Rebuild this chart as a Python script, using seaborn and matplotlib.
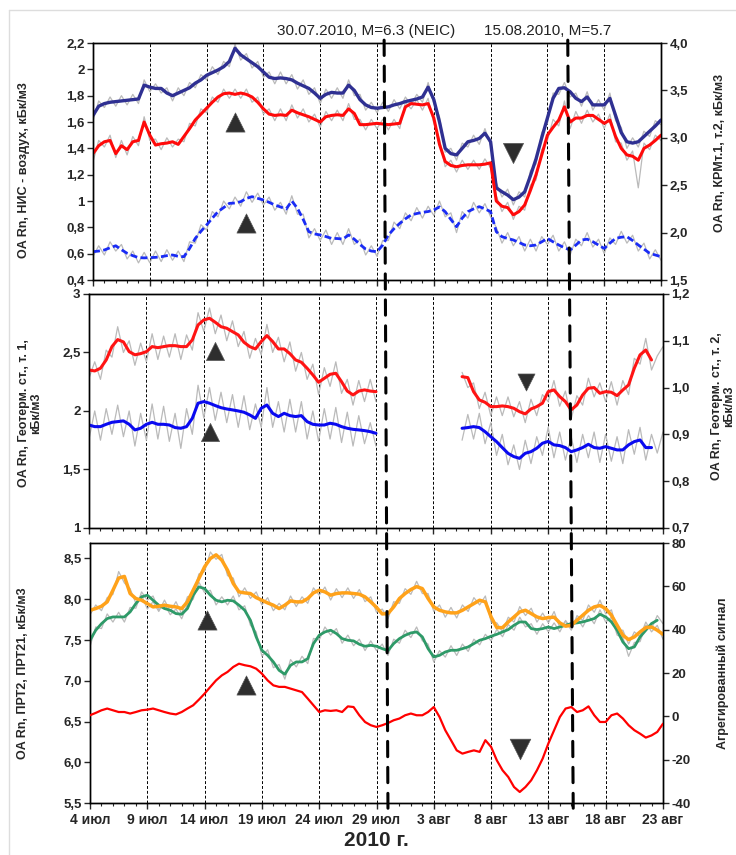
import numpy as np
import pandas as pd
import matplotlib.pyplot as plt
import matplotlib.dates as mdates
from matplotlib.patches import ConnectionPatch
from matplotlib.lines import Line2D
import seaborn as sns

nan = np.nan

# half-day time grid, 4 Jul 2010 .. 23 Aug 2010
times = pd.date_range("2010-07-04", periods=101, freq="12h")

# ---- panel 1: НИС воздух / КРМ
krm1 = [1.65, 1.72, 1.74, 1.75, 1.755, 1.76, 1.765, 1.77, 1.775, 1.88,
        1.865, 1.855, 1.855, 1.82, 1.80, 1.82, 1.84, 1.86, 1.895, 1.92,
        1.955, 1.975, 1.995, 2.02, 2.06, 2.16, 2.11, 2.08, 2.05, 2.02,
        1.98, 1.94, 1.93, 1.935, 1.93, 1.92, 1.895, 1.875, 1.855, 1.82,
        1.78, 1.81, 1.825, 1.82, 1.82, 1.88, 1.84, 1.77, 1.73, 1.71,
        1.705, 1.71, 1.715, 1.73, 1.74, 1.755, 1.765, 1.775, 1.79, 1.865,
        1.77, 1.60, 1.40, 1.36, 1.35, 1.40, 1.45, 1.46, 1.475, 1.515,
        1.45, 1.10, 1.07, 1.045, 1.01, 1.03, 1.07, 1.19, 1.32, 1.48,
        1.63, 1.78, 1.855, 1.86, 1.83, 1.78, 1.755, 1.79, 1.73, 1.73,
        1.73, 1.78, 1.65, 1.52, 1.45, 1.44, 1.45, 1.49, 1.53, 1.57,
        1.615]
krm1_raw = [1.61, 1.76, 1.71, 1.79, 1.72, 1.80, 1.73, 1.81, 1.74, 1.92,
            1.83, 1.89, 1.82, 1.86, 1.76, 1.86, 1.80, 1.90, 1.86, 1.96,
            1.92, 2.02, 1.96, 2.06, 2.02, 2.19, 2.07, 2.12, 2.01, 2.06,
            1.94, 1.98, 1.89, 1.98, 1.89, 1.96, 1.85, 1.92, 1.81, 1.86,
            1.74, 1.85, 1.78, 1.86, 1.78, 1.92, 1.80, 1.81, 1.69, 1.75,
            1.67, 1.75, 1.68, 1.77, 1.70, 1.79, 1.73, 1.81, 1.75, 1.90,
            1.74, 1.64, 1.37, 1.40, 1.31, 1.44, 1.41, 1.50, 1.43, 1.55,
            1.42, 1.14, 1.03, 1.09, 0.97, 1.07, 1.03, 1.23, 1.28, 1.52,
            1.59, 1.82, 1.81, 1.90, 1.79, 1.82, 1.72, 1.83, 1.69, 1.77,
            1.69, 1.82, 1.61, 1.56, 1.40, 1.48, 1.41, 1.53, 1.49, 1.61,
            1.58]
krm2 = [1.36, 1.42, 1.45, 1.46, 1.36, 1.42, 1.39, 1.45, 1.46, 1.60,
        1.50, 1.425, 1.435, 1.44, 1.45, 1.43, 1.49, 1.55, 1.615, 1.66,
        1.705, 1.75, 1.79, 1.815, 1.82, 1.81, 1.82, 1.81, 1.79, 1.75,
        1.70, 1.66, 1.65, 1.655, 1.65, 1.69, 1.67, 1.655, 1.64, 1.62,
        1.60, 1.64, 1.65, 1.655, 1.65, 1.70, 1.665, 1.58, 1.58, 1.585,
        1.59, 1.585, 1.58, 1.585, 1.59, 1.715, 1.74, 1.735, 1.73, 1.74,
        1.63, 1.43, 1.30, 1.27, 1.26, 1.27, 1.275, 1.275, 1.275, 1.28,
        1.29, 1.00, 0.96, 0.95, 0.895, 0.92, 0.97, 1.08, 1.20, 1.35,
        1.50, 1.56, 1.615, 1.715, 1.60, 1.63, 1.63, 1.65, 1.65, 1.62,
        1.59, 1.615, 1.49, 1.40, 1.35, 1.34, 1.31, 1.40, 1.425, 1.46,
        1.50]
krm2_raw = [1.30, 1.46, 1.41, 1.50, 1.33, 1.46, 1.35, 1.49, 1.42, 1.64,
            1.46, 1.47, 1.39, 1.48, 1.41, 1.47, 1.45, 1.59, 1.57, 1.70,
            1.67, 1.79, 1.75, 1.85, 1.78, 1.85, 1.78, 1.85, 1.75, 1.79,
            1.66, 1.70, 1.61, 1.70, 1.61, 1.73, 1.63, 1.70, 1.60, 1.66,
            1.56, 1.68, 1.61, 1.69, 1.61, 1.74, 1.62, 1.62, 1.54, 1.62,
            1.55, 1.62, 1.54, 1.62, 1.55, 1.75, 1.70, 1.77, 1.69, 1.78,
            1.59, 1.47, 1.26, 1.31, 1.22, 1.31, 1.24, 1.31, 1.24, 1.32,
            1.25, 1.04, 0.92, 0.99, 0.86, 0.96, 0.93, 1.12, 1.16, 1.39,
            1.46, 1.62, 1.57, 1.76, 1.55, 1.68, 1.59, 1.69, 1.60, 1.66,
            1.55, 1.66, 1.45, 1.44, 1.31, 1.38, 1.10, 1.44, 1.39, 1.50,
            1.46]
nis = [0.615, 0.62, 0.628, 0.645, 0.66, 0.63, 0.603, 0.585, 0.57, 0.568,
       0.57, 0.572, 0.577, 0.585, 0.59, 0.58, 0.577, 0.64, 0.716, 0.77,
       0.818, 0.87, 0.919, 0.95, 0.982, 0.985, 0.995, 1.02, 1.033, 1.02,
       1.008, 0.99, 0.97, 0.955, 0.939, 1.0, 0.944, 0.86, 0.767, 0.75,
       0.742, 0.73, 0.716, 0.715, 0.711, 0.742, 0.71, 0.67, 0.635, 0.62,
       0.615, 0.665, 0.742, 0.79, 0.83, 0.865, 0.894, 0.905, 0.914, 0.92,
       0.932, 0.955, 0.919, 0.86, 0.805, 0.87, 0.919, 0.94, 0.957, 0.94,
       0.919, 0.767, 0.729, 0.715, 0.704, 0.685, 0.666, 0.66, 0.666, 0.69,
       0.716, 0.69, 0.666, 0.645, 0.628, 0.665, 0.704, 0.71, 0.691, 0.665,
       0.64, 0.68, 0.716, 0.725, 0.729, 0.70, 0.666, 0.635, 0.603, 0.59,
       0.577]
nis_raw = [0.58, 0.66, 0.59, 0.69, 0.62, 0.67, 0.56, 0.62, 0.53, 0.61,
           0.53, 0.62, 0.54, 0.63, 0.55, 0.62, 0.54, 0.69, 0.68, 0.82,
           0.78, 0.92, 0.88, 1.00, 0.94, 1.03, 0.96, 1.07, 0.99, 1.06,
           0.97, 1.03, 0.93, 0.99, 0.90, 1.04, 0.90, 0.90, 0.72, 0.79,
           0.70, 0.78, 0.67, 0.76, 0.67, 0.79, 0.67, 0.71, 0.59, 0.66,
           0.58, 0.70, 0.70, 0.84, 0.79, 0.91, 0.85, 0.95, 0.87, 0.96,
           0.89, 1.00, 0.88, 0.91, 0.76, 0.92, 0.87, 0.99, 0.91, 0.98,
           0.88, 0.80, 0.68, 0.76, 0.66, 0.73, 0.62, 0.71, 0.62, 0.73,
           0.67, 0.74, 0.62, 0.69, 0.59, 0.71, 0.66, 0.76, 0.65, 0.71,
           0.60, 0.72, 0.67, 0.77, 0.68, 0.74, 0.62, 0.68, 0.56, 0.63,
           0.55]

# ---- panel 2: Геотерм. станция
geo1 = [2.35, 2.342, 2.365, 2.436, 2.55, 2.61, 2.59, 2.507, 2.48, 2.49,
        2.507, 2.55, 2.541, 2.55, 2.558, 2.558, 2.55, 2.55, 2.607, 2.735,
        2.778, 2.792, 2.758, 2.72, 2.707, 2.678, 2.65, 2.587, 2.55, 2.53,
        2.593, 2.644, 2.593, 2.53, 2.53, 2.49, 2.436, 2.416, 2.365, 2.308,
        2.245, 2.279, 2.313, 2.322, 2.25, 2.17, 2.137, 2.17, 2.18, 2.17,
        2.165, nan, nan, nan, nan, nan, nan, nan, nan, nan,
        nan, nan, nan, nan, nan, 2.293, 2.285, 2.165, 2.094, 2.074,
        2.037, 2.037, 2.043, 2.037, 2.023, 1.994, 1.975, 2.017, 2.037, 2.066,
        2.165, 2.18, 2.123, 2.08, 2.009, 2.051, 2.137, 2.194, 2.2, 2.151,
        2.165, 2.16, 2.131, 2.179, 2.222, 2.365, 2.479, 2.521, 2.436, nan,
        nan]
geo1_raw = [2.28, 2.42, 2.27, 2.52, 2.46, 2.72, 2.50, 2.60, 2.39, 2.58,
            2.42, 2.66, 2.44, 2.64, 2.46, 2.66, 2.44, 2.65, 2.52, 2.84,
            2.68, 2.88, 2.66, 2.82, 2.60, 2.77, 2.55, 2.68, 2.45, 2.62,
            2.48, 2.74, 2.50, 2.63, 2.42, 2.59, 2.34, 2.50, 2.27, 2.40,
            2.14, 2.37, 2.21, 2.42, 2.15, 2.27, 2.05, 2.26, 2.08, 2.27,
            2.08, nan, nan, nan, nan, nan, nan, nan, nan, nan,
            nan, nan, nan, nan, nan, 2.33, 2.20, 2.24, 2.02, 2.16,
            1.96, 2.12, 1.96, 2.12, 1.95, 2.08, 1.90, 2.10, 1.96, 2.14,
            2.08, 2.26, 2.04, 2.17, 1.93, 2.13, 2.05, 2.28, 2.12, 2.24,
            2.08, 2.25, 2.05, 2.26, 2.14, 2.45, 2.40, 2.62, 2.35, 2.47,
            2.55]
geo2 = [1.88, 1.866, 1.866, 1.886, 1.903, 1.909, 1.915, 1.886, 1.838, 1.852,
        1.886, 1.903, 1.886, 1.886, 1.88, 1.858, 1.852, 1.866, 1.937, 2.066,
        2.08, 2.066, 2.046, 2.028, 2.017, 2.009, 2.0, 1.989, 1.966, 1.937,
        2.023, 2.051, 1.98, 1.952, 1.98, 1.96, 1.952, 1.96, 1.909, 1.886,
        1.88, 1.88, 1.895, 1.886, 1.866, 1.852, 1.843, 1.838, 1.832, 1.823,
        1.809, nan, nan, nan, nan, nan, nan, nan, nan, nan,
        nan, nan, nan, nan, nan, 1.852, 1.858, 1.866, 1.858, 1.823,
        1.78, 1.738, 1.687, 1.638, 1.61, 1.595, 1.638, 1.652, 1.681, 1.724,
        1.74, 1.71, 1.704, 1.687, 1.652, 1.667, 1.687, 1.715, 1.687, 1.681,
        1.695, 1.681, 1.667, 1.667, 1.71, 1.738, 1.752, 1.687, 1.687, nan,
        nan]
geo2_raw = [1.76, 2.00, 1.75, 2.02, 1.80, 2.05, 1.78, 2.00, 1.70, 1.98,
            1.75, 2.06, 1.76, 2.04, 1.74, 1.98, 1.68, 2.02, 1.80, 2.22,
            1.94, 2.20, 1.92, 2.16, 1.90, 2.14, 1.86, 2.13, 1.84, 2.06,
            1.86, 2.20, 1.86, 2.08, 1.82, 2.10, 1.82, 2.08, 1.76, 2.00,
            1.74, 2.02, 1.76, 2.03, 1.73, 1.99, 1.70, 1.96, 1.72, 1.90,
            1.70, nan, nan, nan, nan, nan, nan, nan, nan, nan,
            nan, nan, nan, nan, nan, 1.75, 1.97, 1.76, 1.98, 1.72,
            1.90, 1.62, 1.80, 1.54, 1.71, 1.50, 1.75, 1.55, 1.78, 1.62,
            1.86, 1.60, 1.82, 1.58, 1.78, 1.56, 1.80, 1.60, 1.82, 1.56,
            1.80, 1.57, 1.78, 1.55, 1.84, 1.63, 1.86, 1.58, 1.80, 1.64,
            1.82]

# ---- panel 3: ПРТ2, ПРТ21, агрегированный сигнал
prt2 = [7.865, 7.886, 7.914, 7.968, 8.111, 8.26, 8.28, 8.07, 8.009, 7.988,
        7.947, 7.906, 7.914, 7.927, 7.914, 7.906, 7.886, 7.968, 8.111, 8.254,
        8.398, 8.5, 8.545, 8.48, 8.357, 8.193, 8.09, 8.078, 8.07, 8.02,
        7.988, 7.955, 7.927, 7.886, 7.927, 7.98, 7.968, 7.968, 8.009, 8.078,
        8.111, 8.09, 8.05, 8.07, 8.078, 8.078, 8.07, 8.062, 8.029, 7.968,
        7.9, 7.82, 7.824, 7.906, 8.009, 8.07, 8.119, 8.155, 8.131, 8.009,
        7.906, 7.865, 7.845, 7.833, 7.833, 7.865, 7.906, 7.947, 7.988, 7.968,
        7.783, 7.652, 7.652, 7.722, 7.783, 7.845, 7.865, 7.824, 7.783, 7.763,
        7.775, 7.78, 7.71, 7.669, 7.681, 7.742, 7.804, 7.865, 7.906, 7.923,
        7.886, 7.804, 7.681, 7.558, 7.505, 7.538, 7.599, 7.652, 7.66, 7.62,
        7.57]
prt2_raw = [7.81, 7.93, 7.86, 8.02, 8.06, 8.34, 8.20, 8.13, 7.95, 8.05,
            7.88, 7.97, 7.85, 7.99, 7.85, 7.97, 7.82, 8.03, 8.05, 8.31,
            8.34, 8.58, 8.49, 8.55, 8.29, 8.26, 8.03, 8.14, 8.01, 8.09,
            7.93, 8.02, 7.86, 7.95, 7.87, 8.04, 7.91, 8.03, 7.95, 8.14,
            8.05, 8.15, 7.99, 8.13, 8.02, 8.14, 8.01, 8.12, 7.97, 8.03,
            7.84, 7.88, 7.76, 7.97, 7.95, 8.13, 8.06, 8.22, 8.07, 8.07,
            7.85, 7.93, 7.78, 7.90, 7.77, 7.93, 7.85, 8.02, 7.93, 8.04,
            7.72, 7.71, 7.60, 7.78, 7.72, 7.91, 7.80, 7.89, 7.72, 7.83,
            7.71, 7.85, 7.65, 7.73, 7.62, 7.80, 7.74, 7.93, 7.84, 7.99,
            7.82, 7.87, 7.62, 7.62, 7.45, 7.60, 7.54, 7.72, 7.60, 7.68,
            7.51]
prt21 = [7.497, 7.62, 7.7, 7.763, 7.783, 7.783, 7.783, 7.845, 7.947, 8.029,
         8.05, 7.988, 7.927, 7.886, 7.865, 7.824, 7.816, 7.886, 8.05, 8.152,
         8.131, 8.05, 7.988, 7.968, 7.988, 7.98, 7.927, 7.865, 7.742, 7.538,
         7.374, 7.312, 7.231, 7.128, 7.08, 7.19, 7.231, 7.231, 7.271, 7.456,
         7.558, 7.599, 7.62, 7.579, 7.517, 7.497, 7.489, 7.448, 7.423, 7.435,
         7.423, 7.394, 7.37, 7.456, 7.517, 7.558, 7.587, 7.599, 7.538, 7.394,
         7.292, 7.312, 7.353, 7.374, 7.374, 7.394, 7.415, 7.456, 7.497, 7.517,
         7.546, 7.57, 7.599, 7.628, 7.681, 7.722, 7.72, 7.64, 7.628, 7.64,
         7.66, 7.64, 7.66, 7.681, 7.702, 7.71, 7.722, 7.742, 7.763, 7.816,
         7.783, 7.722, 7.62, 7.476, 7.394, 7.415, 7.538, 7.62, 7.702, 7.742,
         nan]
prt21_raw = [7.42, 7.66, 7.64, 7.82, 7.72, 7.84, 7.72, 7.90, 7.89, 8.09,
             7.99, 8.04, 7.87, 7.94, 7.81, 7.88, 7.76, 7.94, 8.00, 8.21,
             8.08, 8.11, 7.93, 8.03, 7.93, 8.04, 7.87, 7.92, 7.68, 7.60,
             7.30, 7.38, 7.16, 7.20, 7.02, 7.26, 7.17, 7.30, 7.21, 7.52,
             7.50, 7.66, 7.56, 7.64, 7.46, 7.56, 7.43, 7.51, 7.37, 7.49,
             7.37, 7.45, 7.31, 7.51, 7.46, 7.62, 7.53, 7.66, 7.49, 7.45,
             7.23, 7.37, 7.29, 7.43, 7.31, 7.45, 7.36, 7.51, 7.44, 7.57,
             7.49, 7.63, 7.54, 7.69, 7.62, 7.78, 7.66, 7.70, 7.57, 7.70,
             7.60, 7.71, 7.60, 7.74, 7.64, 7.77, 7.66, 7.80, 7.70, 7.87,
             7.72, 7.78, 7.56, 7.53, 7.30, 7.47, 7.48, 7.68, 7.64, 7.80,
             7.70]
aggr = [0.5, 1.6, 2.8, 3.6, 2.8, 2.0, 2.0, 1.3, 2.0, 2.8,
        3.1, 3.6, 2.8, 2.0, 1.3, 0.9, 2.0, 3.6, 5.1, 7.7,
        10.5, 13.6, 16.6, 18.9, 20.5, 22.8, 24.3, 23.6, 23.1, 22.0,
        19.7, 16.6, 14.3, 13.6, 13.6, 12.8, 12.0, 11.2, 8.2, 5.1,
        2.0, 2.8, 2.5, 2.8, 2.0, 4.6, 4.3, 0.5, -2.6, -4.1,
        -4.9, -4.1, -3.1, -1.8, -1.0, 0.5, 1.3, 0.5, 0.5, 2.0,
        4.3, -0.3, -6.4, -11.0, -15.7, -17.2, -16.4, -15.7, -16.4, -11.0,
        -14.1, -20.3, -24.9, -28.0, -32.6, -34.9, -32.6, -29.5, -24.9, -19.5,
        -12.5, -6.4, -0.3, 3.6, 4.3, 2.0, 2.8, 4.6, 0.5, -2.6,
        -2.6, 0.5, 1.3, -1.0, -4.1, -6.4, -8.0, -9.8, -8.8, -7.2,
        -3.4]

# anomaly markers (date, value, direction, size)
marks1 = [("2010-07-16 12:00", 1.60, "^", 190), ("2010-07-17 12:00", 0.833, "^", 190),
          ("2010-08-09 23:00", 1.365, "v", 210)]
marks2 = [("2010-07-15 00:00", 2.513, "^", 170), ("2010-07-14 12:00", 1.823, "^", 170),
          ("2010-08-11 02:00", 2.248, "v", 150)]
marks3 = [("2010-07-14 05:00", 7.742, "^", 190), ("2010-07-17 15:00", 6.943, "^", 190),
          ("2010-08-10 12:00", 6.157, "v", 220)]

# earthquakes: (line top, line bottom, caption centre, caption)
quakes = [("2010-07-29 15:00", "2010-07-30 00:00", "2010-07-28 02:00", "30.07.2010, M=6.3 (NEIC)"),
          ("2010-08-14 19:00", "2010-08-15 04:00", "2010-08-13 00:00", "15.08.2010, M=5.7")]

tick_dates = pd.date_range("2010-07-04", "2010-08-23", freq="5D")
tick_names = ["4 июл", "9 июл", "14 июл", "19 июл", "24 июл", "29 июл",
              "3 авг", "8 авг", "13 авг", "18 авг", "23 авг"]

sns.set_style("ticks")
plt.rcParams["font.family"] = ["Liberation Sans", "DejaVu Sans"]
plt.rcParams["axes.edgecolor"] = "black"
plt.rcParams["axes.linewidth"] = 1.0
narrow = ["Liberation Sans Narrow", "Liberation Sans", "DejaVu Sans"]

fig = plt.figure(figsize=(7.36, 8.55), dpi=100)
ax1 = fig.add_axes([0.1264, 0.6725, 0.7717, 0.2772])
ax2 = fig.add_axes([0.1209, 0.3825, 0.7799, 0.2737])
ax3 = fig.add_axes([0.1223, 0.0608, 0.7785, 0.3041])


def line(ax, values, color, lw, ls="-", z=3):
    df = pd.DataFrame({"t": times, "v": values})
    df["part"] = df["v"].isna().cumsum()
    df = df.dropna()
    sns.lineplot(data=df, x="t", y="v", units="part", estimator=None,
                 color=color, lw=lw, linestyle=ls, ax=ax, zorder=z)


def markers(ax, marks):
    for d, v, m, s in marks:
        sns.scatterplot(x=[pd.Timestamp(d)], y=[v], marker=m, s=s, color="#2e2e2e",
                        edgecolor="#555555", linewidth=0.5, ax=ax, zorder=6)


grey = "#bababa"
# panel 1
line(ax1, krm1_raw, grey, 0.9, z=2)
line(ax1, krm2_raw, grey, 0.9, z=2)
line(ax1, nis_raw, grey, 0.9, z=2)
line(ax1, krm1, "#2f3092", 2.4)
line(ax1, krm2, "#ff0a0a", 2.2)
line(ax1, nis, "#1a2cf5", 2.0, ls=(0, (2.5, 1.2)))
markers(ax1, marks1)

# panel 2
line(ax2, geo1_raw, grey, 0.9, z=2)
line(ax2, geo2_raw, grey, 0.9, z=2)
line(ax2, geo1, "#ff1414", 2.2)
line(ax2, geo2, "#0a0af0", 2.2)
markers(ax2, marks2)

# panel 3
ax3r = ax3.twinx()
line(ax3, prt2_raw, grey, 0.9, z=2)
line(ax3, prt21_raw, grey, 0.9, z=2)
line(ax3, prt21, "#2e9a68", 2.0)
line(ax3, prt2, "#ffa21a", 2.5)
line(ax3r, aggr, "#ff0000", 1.6)
markers(ax3, marks3)

ax1r = ax1.twinx()
ax2r = ax2.twinx()

yset = [
    (ax1, (0.4, 2.2), [0.4, 0.6, 0.8, 1.0, 1.2, 1.4, 1.6, 1.8, 2.0, 2.2],
     ["0,4", "0,6", "0,8", "1", "1,2", "1,4", "1,6", "1,8", "2", "2,2"]),
    (ax1r, (1.5, 4.0), [1.5, 2.0, 2.5, 3.0, 3.5, 4.0],
     ["1,5", "2,0", "2,5", "3,0", "3,5", "4,0"]),
    (ax2, (1.0, 3.0), [1.0, 1.5, 2.0, 2.5, 3.0], ["1", "1,5", "2", "2,5", "3"]),
    (ax2r, (0.7, 1.2), [0.7, 0.8, 0.9, 1.0, 1.1, 1.2],
     ["0,7", "0,8", "0,9", "1,0", "1,1", "1,2"]),
    (ax3, (5.5, 8.69), [5.5, 6.0, 6.5, 7.0, 7.5, 8.0, 8.5],
     ["5,5", "6,0", "6,5", "7,0", "7,5", "8,0", "8,5"]),
    (ax3r, (-40, 80), [-40, -20, 0, 20, 40, 60, 80],
     ["-40", "-20", "0", "20", "40", "60", "80"]),
]
for ax, lim, ticks, labels in yset:
    ax.set_ylim(*lim)
    ax.set_yticks(ticks, labels, fontsize=9.5, fontweight="bold")
    ax.tick_params(axis="y", direction="out", length=4, width=1, pad=2)

t0, t1 = pd.Timestamp("2010-07-04"), pd.Timestamp("2010-08-23")
for ax in (ax1, ax2, ax3):
    ax.set_xlim(t0, t1)
    ax.set_xticks(tick_dates)
    ax.xaxis.set_minor_locator(mdates.DayLocator())
    ax.tick_params(axis="x", which="major", direction="out", length=4, width=1)
    ax.tick_params(axis="x", which="minor", direction="out", length=2.5, width=0.8)
    ax.grid(True, axis="x", which="major", color="black", lw=0.7, linestyle=(0, (3, 2)))
    ax.set_xlabel("")
ax1.set_xticklabels([])
ax2.set_xticklabels([])
ax3.set_xticklabels(tick_names, fontsize=10, fontweight="bold", family=narrow)
ax3.tick_params(axis="x", which="major", pad=3)
ax3.set_xlabel("2010 г.", fontsize=15, fontweight="bold", labelpad=3)

lab = dict(fontsize=9, fontweight="bold")
ax1.set_ylabel("OA Rn, НИС - воздух, кБк/м3", **lab)
ax1.yaxis.set_label_coords(-0.111, 0.465)
ax1r.set_ylabel("OA Rn, КРМт.1, т.2, кБк/м3", **lab)
ax1r.yaxis.set_label_coords(1.093, 0.535)
ax2.set_ylabel("OA Rn, Геотерм. ст., т. 1,\nкБк/м3", linespacing=1.0, **lab)
ax2.yaxis.set_label_coords(-0.082, 0.49)
ax2r.set_ylabel("OA Rn, Геотерм. ст., т. 2,\nкБк/м3", linespacing=1.0, **lab)
ax2r.yaxis.set_label_coords(1.084, 0.52)
ax3.set_ylabel("OA Rn, ПРТ2, ПРТ21, кБк/м3", **lab)
ax3.yaxis.set_label_coords(-0.106, 0.5)
ax3r.set_ylabel("Агрегированный сигнал", **lab)
ax3r.yaxis.set_label_coords(1.093, 0.5)

# earthquake lines across all three panels + captions
for top, bot, cap, text in quakes:
    xt = mdates.date2num(pd.Timestamp(top))
    xb = mdates.date2num(pd.Timestamp(bot))
    con = ConnectionPatch(xyA=(xt, 1.012), coordsA=ax1.get_xaxis_transform(),
                          xyB=(xb, -0.02), coordsB=ax3.get_xaxis_transform(),
                          color="black", lw=2.2, linestyle=(0, (5, 3.5)),
                          shrinkA=0, shrinkB=0, zorder=10)
    fig.add_artist(con)
    ax1.text(pd.Timestamp(cap), 1.05, text, transform=ax1.get_xaxis_transform(), ha="center",
             va="center", fontsize=11, color="#222222", family=narrow)

# light outer frame of the original sheet
fig.add_artist(Line2D([9 / 736, 9 / 736], [0, 1 - 10 / 855], color="#dddddd", lw=1))
fig.add_artist(Line2D([9 / 736, 1], [1 - 10 / 855, 1 - 10 / 855], color="#dddddd", lw=1))

fig.savefig("out.png", dpi=100, facecolor="white")
